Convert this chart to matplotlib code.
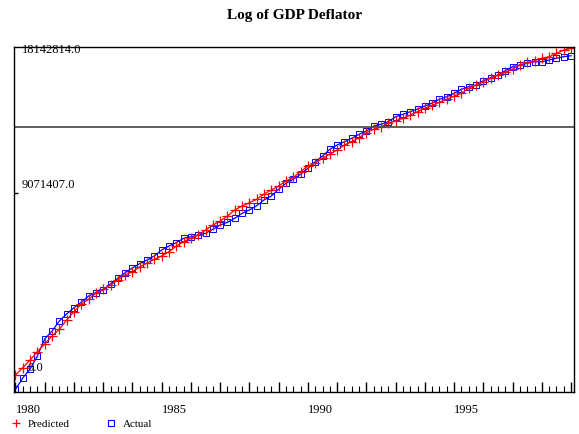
#!/usr/bin/env python3
# Log of GDP Deflator: predicted vs actual, quarterly 1980-1999.
# - Output: out.png (579x434)
import numpy as np
import matplotlib.pyplot as plt
from matplotlib.lines import Line2D

# quarterly series, 1980Q1 .. 1999Q1 (plot units)
start_year = 1980
actual = [
    2.7, 14.0, 23.0, 36.0, 53.0, 61.0, 71.0, 78.0, 84.3, 89.7,
    96.0, 99.3, 102.0, 108.0, 113.7, 119.3, 124.0, 128.5, 132.0, 136.0,
    142.0, 146.0, 149.3, 153.7, 155.3, 157.0, 158.7, 162.7, 167.0, 169.7,
    173.7, 178.7, 182.0, 186.3, 192.0, 196.0, 202.7, 208.7, 212.7, 217.7,
    223.7, 230.3, 236.0, 242.7, 247.0, 250.3, 253.7, 257.7, 261.0, 266.0,
    267.7, 270.3, 275.3, 277.7, 280.3, 283.0, 286.0, 289.0, 292.7, 295.3,
    298.7, 302.7, 305.3, 307.0, 311.3, 314.3, 317.0, 321.3, 325.3, 327.0,
    328.7, 330.3, 330.3, 332.0, 333.7, 335.3, 336.3,
]
predicted = [
    17.0, 24.3, 32.0, 40.3, 48.0, 56.0, 62.7, 72.0, 80.3, 87.7,
    92.7, 98.7, 102.7, 107.0, 112.0, 117.0, 120.3, 125.0, 129.0, 132.7,
    136.0, 140.3, 146.0, 150.3, 153.7, 157.0, 162.0, 167.0, 171.0, 176.0,
    182.0, 186.0, 189.3, 192.7, 198.0, 202.0, 206.0, 211.0, 214.5, 220.3,
    226.0, 228.7, 233.7, 238.0, 242.0, 247.0, 250.3, 254.3, 259.3, 262.7,
    265.3, 268.7, 271.3, 273.7, 277.0, 280.3, 283.7, 286.7, 289.7, 292.7,
    296.0, 298.7, 303.7, 307.0, 310.3, 313.7, 317.0, 319.7, 323.0, 327.0,
    329.7, 331.3, 333.7, 335.3, 338.7, 342.0, 343.7,
]
year_labels = [1980, 1985, 1990, 1995]
# y labels as printed on the chart, with their vertical positions (plot units)
ylabel_text = ["18142814.0", "9071407.0", "0.0"]
ylabel_pos = [342.0, 207.0, 24.0]
hline_level = 265.0

SERIF = ["Liberation Serif", "DejaVu Serif"]


def main():
    plt.rcParams["font.family"] = SERIF
    x = start_year + np.arange(len(actual)) / 4.0

    fig = plt.figure(figsize=(5.79, 4.34), dpi=100)
    ax = fig.add_axes([14 / 579, 1 - 392 / 434, 560 / 579, 345 / 434])

    ax.plot(x, actual, color="blue", lw=0.9, marker="s", ms=4.5, mfc="none",
            mec="blue", mew=0.7)
    ax.plot(x, predicted, color="red", lw=0.9, marker="+", ms=6.5, mew=0.9)
    ax.axhline(hline_level, color="#505050", lw=1.3)

    ax.set_xlim(1979.95, 1999.1)
    ax.set_ylim(0, 345)

    # year ticks (long) + quarter ticks (short), labels every 5 years
    years = np.arange(1980, 2000)
    ax.set_xticks(years)
    ax.set_xticklabels([str(y) if y in year_labels else "" for y in years],
                       ha="left", fontsize=9)
    ax.set_xticks(np.arange(1980, 1999.1, 0.25), minor=True)
    ax.tick_params(axis="x", which="major", direction="in", length=7, width=1, pad=8.5)
    ax.tick_params(axis="x", which="minor", direction="in", length=4, width=0.8)

    ax.set_yticks([199.3])
    ax.set_yticklabels([])
    ax.tick_params(axis="y", direction="in", length=3, width=1)
    for txt, yv in zip(ylabel_text, ylabel_pos):
        xoff = 28 if txt == "0.0" else 22
        ax.annotate(txt, xy=(0, yv), xycoords=("axes fraction", "data"),
                    xytext=(xoff - 14, 0), textcoords="offset pixels",
                    ha="left", va="center", fontsize=9)

    for s in ax.spines.values():
        s.set_linewidth(1.0)

    fig.text(295 / 579, 1 - 15 / 434, "Log of GDP Deflator", ha="center",
             va="center", fontsize=11, fontweight="bold")

    handles = [
        Line2D([], [], color="red", marker="+", ms=6, mew=0.9, ls="none"),
        Line2D([], [], color="blue", marker="s", ms=4.5, mfc="none",
               mec="blue", mew=0.8, ls="none"),
    ]
    fig.legend(handles, ["Predicted", "Actual"], loc="lower left",
               bbox_to_anchor=(0.0, -0.012), ncol=2, frameon=False,
               fontsize=8, handlelength=1.0, handletextpad=0.6,
               columnspacing=3.22)

    fig.savefig("out.png", dpi=100)


if __name__ == "__main__":
    main()
